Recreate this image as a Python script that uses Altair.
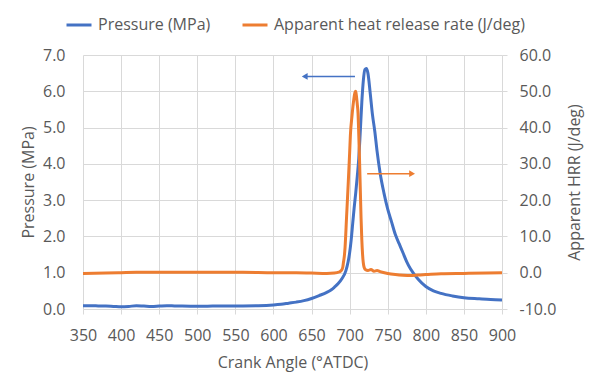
import altair as alt
import pandas as pd

# ---------------- data ----------------
ca_p = [350, 360, 370, 380, 390, 400, 410, 420, 430, 440, 450, 460, 470, 480,
        500, 520, 540, 560, 580, 600, 610, 620, 630, 640, 650, 660, 670, 676,
        680, 685, 690, 695, 698, 700, 702, 704, 706, 708, 710, 712, 714, 716,
        718, 720, 722, 724, 727, 730, 733, 736, 740, 745, 750, 755, 760, 765,
        770, 775, 780, 790, 800, 810, 820, 835, 850, 870, 885, 900]
pressure = [0.09, 0.09, 0.085, 0.08, 0.07, 0.06, 0.07, 0.09, 0.08, 0.07, 0.08, 0.09, 0.085, 0.08,
            0.075, 0.08, 0.085, 0.085, 0.09, 0.11, 0.13, 0.16, 0.19, 0.23, 0.29, 0.37, 0.46, 0.53,
            0.6, 0.7, 0.84, 1.05, 1.3, 1.55, 1.9, 2.35, 2.8, 3.2, 3.65, 4.15, 4.9, 5.7,
            6.3, 6.6, 6.63, 6.5, 5.95, 5.35, 4.9, 4.35, 3.75, 3.2, 2.75, 2.4, 2.05, 1.8,
            1.55, 1.3, 1.1, 0.82, 0.62, 0.5, 0.43, 0.36, 0.31, 0.28, 0.26, 0.25]

ca_h = [350, 380, 400, 420, 450, 480, 500, 530, 560, 600, 630, 650, 670, 680,
        686, 689, 691, 692, 693, 694, 696, 698, 700, 701, 703, 705, 707, 708,
        709, 710, 711, 712, 713, 714, 715, 716, 717, 719, 721, 724, 728, 732,
        736, 740, 750, 760, 770, 780, 790, 800, 820, 850, 880, 900]
hrr = [-0.2, -0.1, 0.0, 0.1, 0.1, 0.1, 0.1, 0.1, 0.1, 0.0, 0.0, -0.1, -0.2, -0.1,
       0.2, 0.6, 1.5, 3.0, 4.5, 7.0, 15.5, 24.0, 33.0, 38.0, 43.0, 47.0, 49.7, 50.0,
       48.5, 46.5, 44.0, 38.0, 31.0, 23.0, 15.0, 9.0, 5.0, 1.5, 0.8, 0.6, 0.9, 0.4,
       0.6, 0.3, -0.2, -0.5, -0.7, -0.8, -0.6, -0.5, -0.3, -0.2, -0.1, 0.0]

x_ticks = list(range(350, 901, 50))
p_ticks = [0, 1, 2, 3, 4, 5, 6, 7]
h_ticks = [-10, 0, 10, 20, 30, 40, 50, 60]
series_names = ["Pressure (MPa)", "Apparent heat release rate (J/deg)"]
series_colors = ["#4472C4", "#ED7D31"]

# annotation arrows (start, head position, level)
p_arrow_start, p_arrow_head, p_arrow_level = [707], [641], [6.41]
h_arrow_start, h_arrow_head, h_arrow_level = [723], [782], [27.3]

# ---------------- tables ----------------
df_p = pd.DataFrame({"ca": ca_p, "p": pressure, "series": series_names[0]})
df_h = pd.DataFrame({"ca": ca_h, "h": hrr, "series": series_names[1]})
df_pa = pd.DataFrame({"ca": p_arrow_start, "cb": p_arrow_head, "p": p_arrow_level})
df_ha = pd.DataFrame({"ca": h_arrow_start, "cb": h_arrow_head, "h": h_arrow_level})

FONT = "Open Sans"
TXT = "#595959"
GRID = "#d9d9d9"
X_TITLE = "Crank Angle (°ATDC)"
P_TITLE = "Pressure (MPa)"
H_TITLE = "Apparent HRR (J/deg)"

x_scale = alt.Scale(domain=[350, 900], nice=False, zero=False)
p_scale = alt.Scale(domain=[0, 7], nice=False)
h_scale = alt.Scale(domain=[-10, 60], nice=False)

x_axis = alt.Axis(values=x_ticks, grid=True, gridColor=GRID, gridOpacity=1, gridWidth=1,
                  domain=True, domainColor=GRID, labelFlush=False,
                  ticks=True, tickSize=5, tickColor=GRID, labelPadding=13, labelOverlap=False,
                  titlePadding=11, title=X_TITLE)
p_axis = alt.Axis(orient="left", values=p_ticks, format=".1f", grid=True, gridColor=GRID,
                  gridOpacity=1, gridWidth=1, labelOverlap=False, labelFlush=False,
                  domain=False, ticks=False, tickSize=0, labelPadding=18,
                  titlePadding=6, title=P_TITLE)
h_axis = alt.Axis(orient="right", values=h_ticks, format=".1f",
                  labelExpr="replace(datum.label, '\u2212', '-')", labelOverlap=False,
                  labelFlush=False,
                  grid=False, domain=False, ticks=True, tickSize=5, tickColor=GRID,
                  labelPadding=12, titlePadding=27, titleAngle=270, title=H_TITLE)


def xenc(field):
    return alt.X(field, type="quantitative", scale=x_scale, axis=x_axis, title=X_TITLE)


def penc():
    return alt.Y("p", type="quantitative", scale=p_scale, axis=p_axis, title=P_TITLE)


def henc():
    return alt.Y("h", type="quantitative", scale=h_scale, axis=h_axis, title=H_TITLE)


color = alt.Color("series:N",
                  scale=alt.Scale(domain=series_names, range=series_colors),
                  legend=alt.Legend(title=None, orient="none", legendX=-18, legendY=-44,
                                    direction="horizontal", symbolType="stroke",
                                    symbolStrokeWidth=3, symbolSize=625,
                                    labelFont=FONT, labelFontSize=16, labelColor=TXT,
                                    labelLimit=400, columnPadding=25, labelOffset=5,
                                    padding=0))

p_line = alt.Chart(df_p).mark_line(strokeWidth=3, interpolate="monotone").encode(
    x=xenc("ca"), y=penc(), color=color,
)
p_rule = alt.Chart(df_pa).mark_rule(strokeWidth=1.5, color=series_colors[0]).encode(
    x=xenc("ca"), x2="cb:Q", y=penc(),
)
p_head = alt.Chart(df_pa).mark_point(shape="triangle-left", filled=True, size=45,
                                     opacity=1, color=series_colors[0]).encode(
    x=xenc("cb"), y=penc(),
)

h_line = alt.Chart(df_h).mark_line(strokeWidth=3, interpolate="monotone").encode(
    x=xenc("ca"), y=henc(), color=color,
)
h_rule = alt.Chart(df_ha).mark_rule(strokeWidth=1.5, color=series_colors[1]).encode(
    x=xenc("ca"), x2="cb:Q", y=henc(),
)
h_head = alt.Chart(df_ha).mark_point(shape="triangle-right", filled=True, size=45,
                                     opacity=1, color=series_colors[1]).encode(
    x=xenc("cb"), y=henc(),
)

p_group = alt.layer(p_line, p_rule, p_head)
h_group = alt.layer(h_line, h_rule, h_head)

chart = alt.layer(p_group, h_group).resolve_scale(y="independent").properties(
    width=419, height=254,
    autosize=alt.AutoSizeParams(type="none"),
    padding={"left": 75, "top": 47, "right": 90, "bottom": 75},
    background="white",
).configure_view(stroke=None).configure_axis(
    labelFont=FONT, labelFontSize=16, labelColor=TXT,
    titleFont=FONT, titleFontSize=16, titleColor=TXT, titleFontWeight="normal",
    gridColor=GRID,
)

chart.save("out.html", embed_options={"renderer": "svg", "actions": False})
